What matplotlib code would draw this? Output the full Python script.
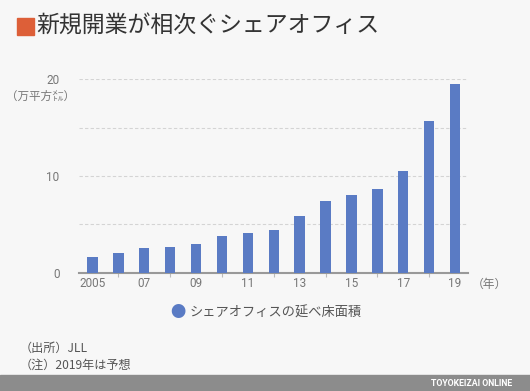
import matplotlib.pyplot as plt
from matplotlib.patches import Rectangle

plt.rcParams['font.family'] = ['Noto Sans CJK JP', 'DejaVu Sans']

# data
years = list(range(2005, 2020))
floor_area = [1.57, 1.99, 2.5, 2.67, 2.92, 3.78, 4.09, 4.4,
              5.82, 7.4, 7.99, 8.61, 10.5, 15.65, 19.48]
tick_years = [2005, 2007, 2009, 2011, 2013, 2015, 2017, 2019]
tick_labels = ['2005', '07', '09', '11', '13', '15', '17', '19']
title = '新規開業が相次ぐシェアオフィス'
series_name = 'シェアオフィスの延べ床面積'
notes = ['（出所）JLL', '（注）2019年は予想']

bg = '#f7f7f7'
bar_color = '#5a7bc4'
gray = '#777777'

fig = plt.figure(figsize=(5.3, 3.91), dpi=100, facecolor=bg)
ax = fig.add_axes([79 / 530, 1 - 272.5 / 391, (468 - 79) / 530, (272.5 - 79.3) / 391])
ax.set_facecolor(bg)

ax.bar(years, floor_area, width=0.4, color=bar_color, zorder=3)
ax.set_xlim(2004.48, 2019.5)
ax.set_ylim(0, 20)

for v in [5, 10, 15, 20]:
    ax.axhline(v, color='#d4d4d4', lw=0.8, ls=(0, (3, 2)), zorder=1)

for s in ['top', 'right', 'left']:
    ax.spines[s].set_visible(False)
ax.spines['bottom'].set_color('#999999')
ax.spines['bottom'].set_linewidth(1.5)

ax.set_yticks([0, 10, 20])
ax.set_yticklabels(['0', '10', '20'])
ax.tick_params(axis='y', length=0, pad=14, labelsize=8.5, labelcolor=gray)
ax.set_xticks(tick_years)
ax.set_xticklabels(tick_labels)
ax.set_xticks([y for y in years if y not in tick_years], minor=True)
ax.tick_params(axis='x', which='major', length=0, pad=3, labelsize=8.5, labelcolor=gray)
ax.tick_params(axis='x', which='minor', length=3, width=0.8, color='#bbbbbb', direction='out')
for lbl in ax.get_xticklabels() + ax.get_yticklabels():
    lbl.set_fontfamily(['Roboto', 'DejaVu Sans'])

# title with orange square
fig.patches.append(Rectangle((17 / 530, 1 - 35 / 391), 17 / 530, 17 / 391,
                             transform=fig.transFigure, color='#dd5f38', figure=fig))
fig.text(36 / 530, 1 - 26.5 / 391, title, fontsize=16.5, color='#333333', va='center')

fig.text(40 / 530, 1 - 96 / 391, '（万平方㍍）', fontsize=8.3, color=gray, ha='center', va='center')
fig.text(489 / 530, 1 - 284 / 391, '（年）', fontsize=8.5, color=gray, ha='center', va='center')

# legend
fig.text(178 / 530, 1 - 313 / 391, '●', fontsize=11, color=bar_color, ha='center', va='center')
fig.text(190 / 530, 1 - 313 / 391, series_name, fontsize=9.5, color='#555555', va='center')

fig.text(20 / 530, 1 - 348 / 391, notes[0], fontsize=8.7, color='#555555', va='center')
fig.text(20 / 530, 1 - 365 / 391, notes[1], fontsize=8.7, color='#555555', va='center')

# footer band
fig.patches.append(Rectangle((0, 0), 1, 16 / 391, transform=fig.transFigure,
                             color='#8c8c8c', figure=fig))
fig.text(512 / 530, 8 / 391, 'TOYOKEIZAI ONLINE', fontsize=6.3, color='white',
         fontweight='bold', ha='right', va='center', family=['Roboto', 'DejaVu Sans'])

fig.savefig('out.png', dpi=100, facecolor=bg)
